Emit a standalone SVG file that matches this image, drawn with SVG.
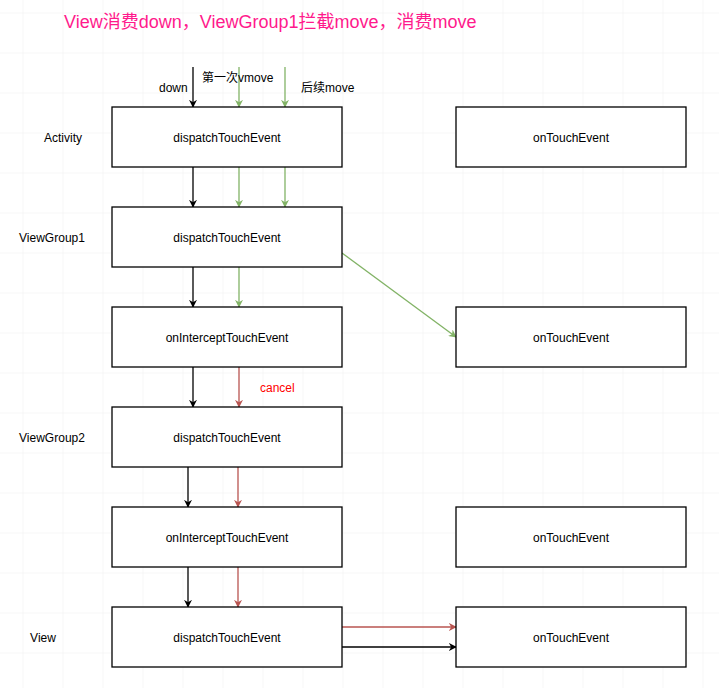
<svg xmlns="http://www.w3.org/2000/svg" width="719" height="688" viewBox="0 0 719 688">
<style>
  .box{fill:#fff;stroke:#000;stroke-width:1.3}
  .t{font-family:"Liberation Sans","Noto Sans CJK SC",sans-serif;font-size:12px;fill:#000}
  .c{text-anchor:middle}
  .k{stroke:#000;stroke-width:1.3;fill:none}
  .g{stroke:#82b366;stroke-width:1.3;fill:none}
  .r{stroke:#b85450;stroke-width:1.3;fill:none}
</style>
<defs>
  <pattern id="grid" x="22.5" y="12.5" width="40" height="40" patternUnits="userSpaceOnUse">
    <path d="M0 0H40M0 0V40" stroke="#efefef" stroke-width="1" fill="none"/>
  </pattern>
  <marker id="ak" viewBox="0 0 10 10" refX="9" refY="5" markerWidth="8" markerHeight="8" markerUnits="userSpaceOnUse" orient="auto"><path d="M0 0L10 5L0 10L3 5Z" fill="#000"/></marker>
  <marker id="ag" viewBox="0 0 10 10" refX="9" refY="5" markerWidth="8" markerHeight="8" markerUnits="userSpaceOnUse" orient="auto"><path d="M0 0L10 5L0 10L3 5Z" fill="#82b366"/></marker>
  <marker id="ar" viewBox="0 0 10 10" refX="9" refY="5" markerWidth="8" markerHeight="8" markerUnits="userSpaceOnUse" orient="auto"><path d="M0 0L10 5L0 10L3 5Z" fill="#b85450"/></marker>
</defs>
<rect width="719" height="688" fill="#fff"/>
<rect width="719" height="688" fill="url(#grid)"/>

<text x="64" y="28" font-family="'Liberation Sans','Noto Sans CJK SC',sans-serif" font-size="18" fill="#ff1a8c">View消费down，ViewGroup1拦截move，消费move</text>

<g id="labels">
  <text class="t" x="63" y="142" text-anchor="middle">Activity</text>
  <text class="t" x="52" y="242" text-anchor="middle">ViewGroup1</text>
  <text class="t" x="52" y="442" text-anchor="middle">ViewGroup2</text>
  <text class="t" x="43" y="642" text-anchor="middle">View</text>
</g>

<g id="connectors">
  <line class="k" x1="193" y1="67" x2="193" y2="107" marker-end="url(#ak)"/>
  <line class="g" x1="239" y1="67" x2="239" y2="107" marker-end="url(#ag)"/>
  <line class="g" x1="285" y1="67" x2="285" y2="107" marker-end="url(#ag)"/>
  <text class="t" x="159" y="92">down</text>
  <text class="t" x="202" y="82">第一次vmove</text>
  <text class="t" x="301" y="92">后续move</text>

  <line class="k" x1="193" y1="167" x2="193" y2="207" marker-end="url(#ak)"/>
  <line class="g" x1="239" y1="167" x2="239" y2="207" marker-end="url(#ag)"/>
  <line class="g" x1="285" y1="167" x2="285" y2="207" marker-end="url(#ag)"/>

  <line class="k" x1="193" y1="267" x2="193" y2="307" marker-end="url(#ak)"/>
  <line class="g" x1="239" y1="267" x2="239" y2="307" marker-end="url(#ag)"/>
  <line class="g" x1="342" y1="253" x2="456" y2="337" marker-end="url(#ag)"/>

  <line class="k" x1="193" y1="367" x2="193" y2="407" marker-end="url(#ak)"/>
  <line class="r" x1="239" y1="367" x2="239" y2="407" marker-end="url(#ar)"/>
  <text x="260" y="392" font-family="'Liberation Sans',sans-serif" font-size="12" fill="#ff0000">cancel</text>

  <line class="k" x1="188" y1="467" x2="188" y2="507" marker-end="url(#ak)"/>
  <line class="r" x1="238" y1="467" x2="238" y2="507" marker-end="url(#ar)"/>

  <line class="k" x1="188" y1="567" x2="188" y2="607" marker-end="url(#ak)"/>
  <line class="r" x1="238" y1="567" x2="238" y2="607" marker-end="url(#ar)"/>

  <line class="r" x1="342" y1="627" x2="456" y2="627" marker-end="url(#ar)"/>
  <line class="k" x1="342" y1="647" x2="456" y2="647" marker-end="url(#ak)"/>
</g>

<g id="act-dispatch"><rect class="box" x="112" y="107" width="230" height="60"/><text class="t c" x="227" y="142">dispatchTouchEvent</text></g>
<g id="act-touch"><rect class="box" x="456" y="107" width="230" height="60"/><text class="t c" x="571" y="142">onTouchEvent</text></g>
<g id="vg1-dispatch"><rect class="box" x="112" y="207" width="230" height="60"/><text class="t c" x="227" y="242">dispatchTouchEvent</text></g>
<g id="vg1-intercept"><rect class="box" x="112" y="307" width="230" height="60"/><text class="t c" x="227" y="342">onInterceptTouchEvent</text></g>
<g id="vg1-touch"><rect class="box" x="456" y="307" width="230" height="60"/><text class="t c" x="571" y="342">onTouchEvent</text></g>
<g id="vg2-dispatch"><rect class="box" x="112" y="407" width="230" height="60"/><text class="t c" x="227" y="442">dispatchTouchEvent</text></g>
<g id="vg2-intercept"><rect class="box" x="112" y="507" width="230" height="60"/><text class="t c" x="227" y="542">onInterceptTouchEvent</text></g>
<g id="vg2-touch"><rect class="box" x="456" y="507" width="230" height="60"/><text class="t c" x="571" y="542">onTouchEvent</text></g>
<g id="view-dispatch"><rect class="box" x="112" y="607" width="230" height="60"/><text class="t c" x="227" y="642">dispatchTouchEvent</text></g>
<g id="view-touch"><rect class="box" x="456" y="607" width="230" height="60"/><text class="t c" x="571" y="642">onTouchEvent</text></g>
</svg>
